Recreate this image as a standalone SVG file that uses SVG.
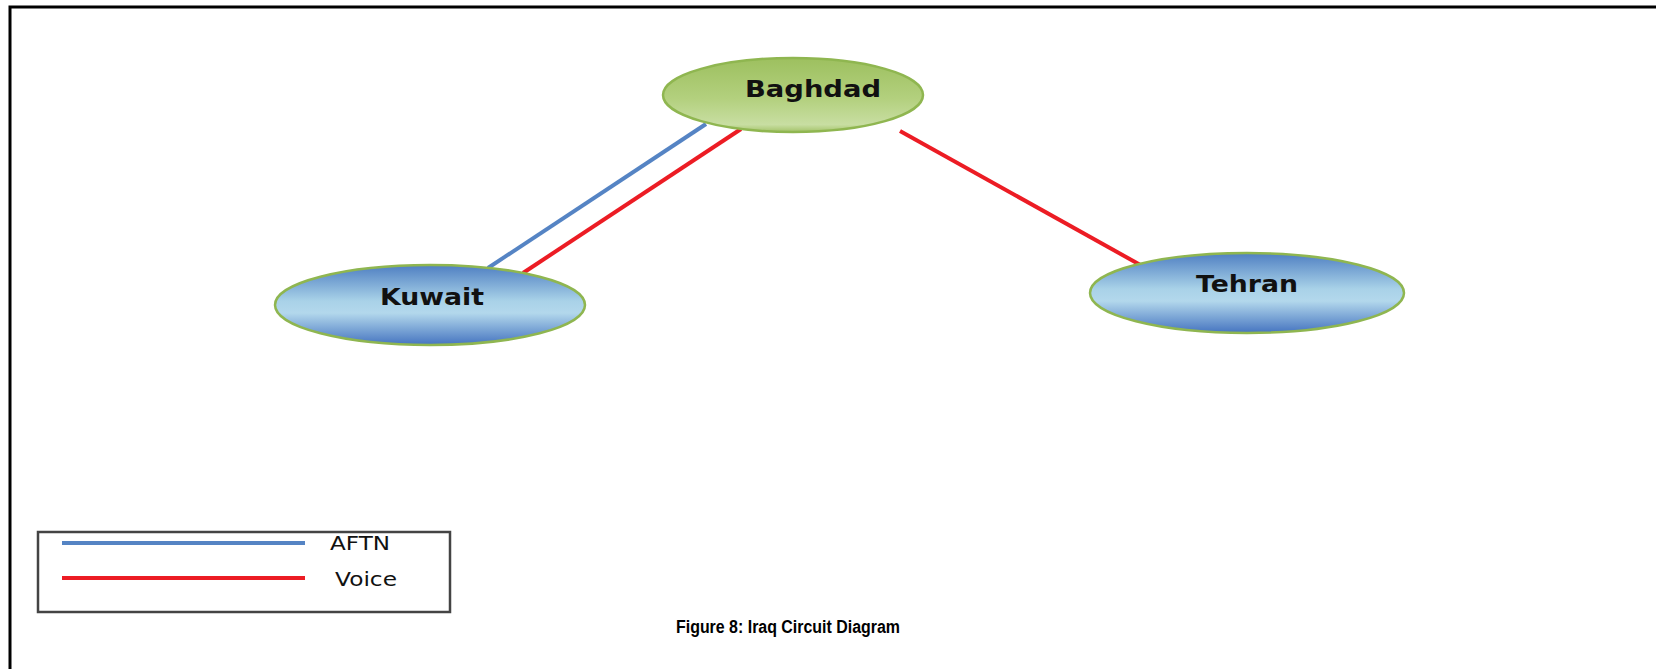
<svg xmlns="http://www.w3.org/2000/svg" width="1656" height="669" viewBox="0 0 1656 669">
<defs>
<linearGradient id="gGreen" x1="0" y1="0" x2="0" y2="1">
<stop offset="0" stop-color="#9dc05f"/>
<stop offset="0.55" stop-color="#b3d07e"/>
<stop offset="0.9" stop-color="#c8dea2"/>
<stop offset="1" stop-color="#a4c36a"/>
</linearGradient>
<linearGradient id="gBlue" x1="0" y1="0" x2="0" y2="1">
<stop offset="0" stop-color="#4f7fc2"/>
<stop offset="0.45" stop-color="#a9d2e8"/>
<stop offset="0.6" stop-color="#b3d8ec"/>
<stop offset="1" stop-color="#4574c0"/>
</linearGradient>
<style>
.frame{fill:none;stroke:#000;stroke-width:3}
.node{stroke:#8fb650;stroke-width:2.5}
.lbl{font-family:"DejaVu Sans",Verdana,sans-serif;font-weight:bold;font-size:23px;fill:#111;text-anchor:middle}
.aftn{stroke:#5584c4;stroke-width:4;fill:none}
.voice{stroke:#ec1c24;stroke-width:4;fill:none}
.leg{font-family:"DejaVu Sans",Verdana,sans-serif;font-size:19px;fill:#111}
.cap{font-family:"Liberation Sans",Arial,sans-serif;font-weight:bold;font-size:18px;fill:#000;text-anchor:middle}
</style>
</defs>
<rect width="1656" height="669" fill="#fff"/>
<path class="frame" d="M10,669 V7 H1656"/>
<g id="connectors">
<line class="aftn" x1="706" y1="124" x2="488" y2="268"/>
<line class="voice" x1="741" y1="129" x2="523" y2="273"/>
<line class="voice" x1="900" y1="131" x2="1144" y2="267"/>
</g>
<g id="node-baghdad">
<ellipse class="node" cx="793" cy="95" rx="130" ry="37" fill="url(#gGreen)"/>
<text class="lbl" x="813" y="97" textLength="136" lengthAdjust="spacingAndGlyphs">Baghdad</text>
</g>
<g id="node-kuwait">
<ellipse class="node" cx="430" cy="305" rx="155" ry="40" fill="url(#gBlue)"/>
<text class="lbl" x="432" y="305" textLength="104" lengthAdjust="spacingAndGlyphs">Kuwait</text>
</g>
<g id="node-tehran">
<ellipse class="node" cx="1247" cy="293" rx="157" ry="40" fill="url(#gBlue)"/>
<text class="lbl" x="1247" y="292" textLength="102" lengthAdjust="spacingAndGlyphs">Tehran</text>
</g>
<g id="legend">
<rect x="38" y="532" width="412" height="80" fill="#fff" stroke="#444" stroke-width="2.5"/>
<line class="aftn" x1="62" y1="543" x2="305" y2="543" stroke-width="3"/>
<line class="voice" x1="62" y1="578" x2="305" y2="578"/>
<text class="leg" x="330" y="550" textLength="60" lengthAdjust="spacingAndGlyphs">AFTN</text>
<text class="leg" x="335" y="586" textLength="62" lengthAdjust="spacingAndGlyphs">Voice</text>
</g>
<text class="cap" x="788" y="633" textLength="224" lengthAdjust="spacingAndGlyphs">Figure 8: Iraq Circuit Diagram</text>
</svg>
